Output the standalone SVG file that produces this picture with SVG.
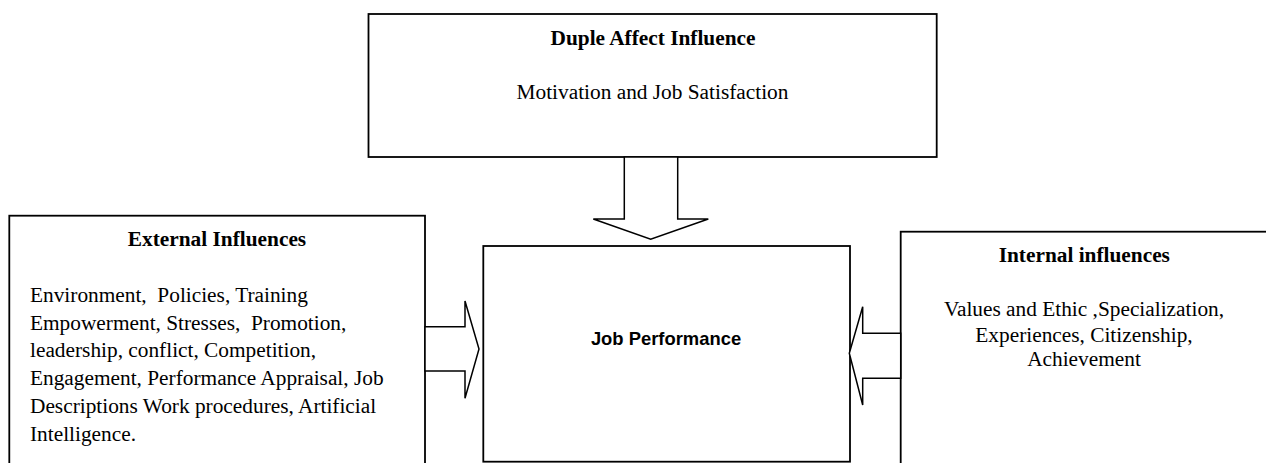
<svg xmlns="http://www.w3.org/2000/svg" width="1266" height="463" viewBox="0 0 1266 463">
<style>
.box{fill:#fff;stroke:#000;stroke-width:1.8}
.arr{fill:#fff;stroke:#000;stroke-width:1.5;stroke-linejoin:miter}
.t{font-family:"Liberation Serif","Times New Roman",serif;font-size:21.33px;fill:#000;white-space:pre}
.b{font-weight:bold}
.c{text-anchor:middle}
.jp{font-family:"Liberation Sans",Arial,sans-serif;font-size:18.4px;font-weight:bold;text-anchor:middle;fill:#000}
</style>
<rect width="1266" height="463" fill="#fff"/>
<g id="duple">
<rect class="box" x="368.5" y="14" width="568.2" height="143"/>
<text class="t b c" x="653" y="45">Duple Affect Influence</text>
<text class="t c" x="652.5" y="99">Motivation and Job Satisfaction</text>
</g>
<g id="external">
<rect class="box" x="9.3" y="215.7" width="415.7" height="270"/>
<text class="t b c" x="217" y="246">External Influences</text>
<text class="t" x="30" y="301.7" xml:space="preserve">Environment,  Policies, Training</text>
<text class="t" x="30" y="329.5" xml:space="preserve">Empowerment, Stresses,  Promotion,</text>
<text class="t" x="30" y="357.3">leadership, conflict, Competition,</text>
<text class="t" x="30" y="385.1">Engagement, Performance Appraisal, Job</text>
<text class="t" x="30" y="413.2">Descriptions Work procedures, Artificial</text>
<text class="t" x="30" y="441">Intelligence.</text>
</g>
<g id="job">
<rect class="box" x="483.3" y="246" width="366.7" height="215.7"/>
<text class="jp" x="666" y="345">Job Performance</text>
</g>
<g id="internal">
<rect class="box" x="900.7" y="231.7" width="400" height="270"/>
<text class="t b c" x="1084.3" y="261.7">Internal influences</text>
<text class="t c" x="1084" y="315.7">Values and Ethic ,Specialization,</text>
<text class="t c" x="1084" y="341.7">Experiences, Citizenship,</text>
<text class="t c" x="1084" y="366">Achievement</text>
</g>
<g id="connectors">
<polygon class="arr" points="624.3,157 677.7,157 677.7,219 708.3,219 650.7,239.3 593.3,219 624.3,219"/>
<polygon class="arr" points="425,326.7 465,326.7 465,301 479,349 465,398.3 465,371 425,371"/>
<polygon class="arr" points="900.7,333.3 862.7,333.3 862.7,306.7 849.3,353.3 862.7,405 862.7,378.3 900.7,378.3"/>
</g>
</svg>
